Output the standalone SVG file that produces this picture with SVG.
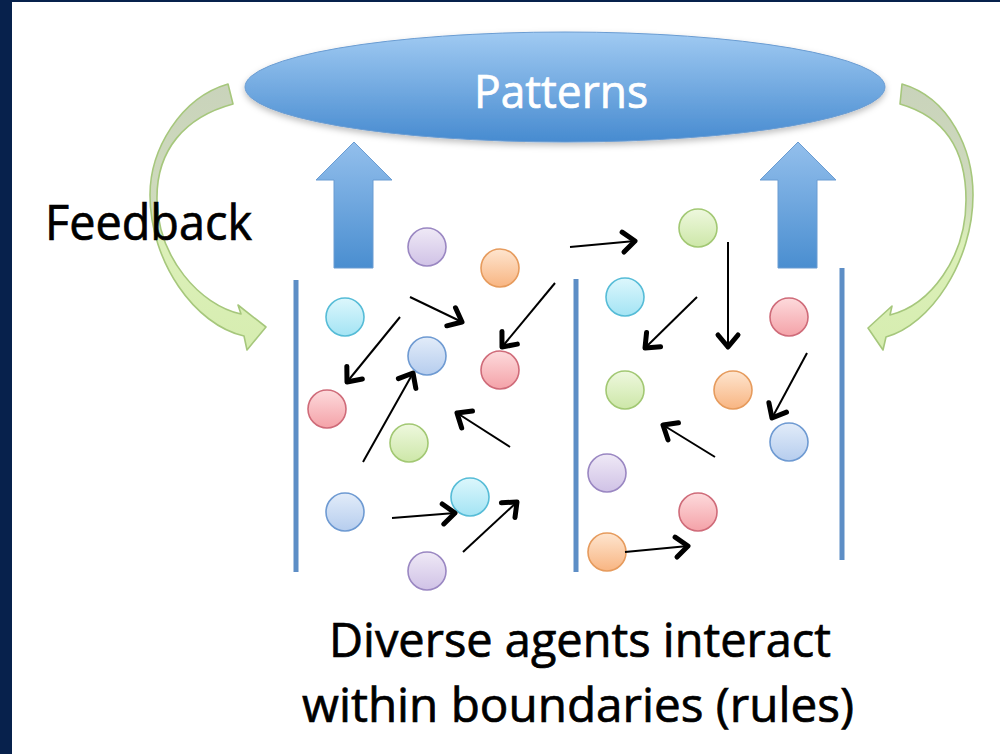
<svg xmlns="http://www.w3.org/2000/svg" width="1000" height="754" viewBox="0 0 1000 754">
<defs>
<linearGradient id="gEll" x1="0" y1="0" x2="0" y2="1"><stop offset="0" stop-color="#a0caf2"/><stop offset="1" stop-color="#478bd0"/></linearGradient>
<linearGradient id="gUp" x1="0" y1="0" x2="0" y2="1"><stop offset="0" stop-color="#93bfec"/><stop offset="1" stop-color="#4a8ed0"/></linearGradient>
<linearGradient id="gGreen" x1="0" y1="0" x2="0" y2="1"><stop offset="0" stop-color="#c9d3bb"/><stop offset="0.45" stop-color="#cfdbbd"/><stop offset="0.6" stop-color="#dcf0b9"/><stop offset="1" stop-color="#d6edb0"/></linearGradient>
<linearGradient id="cB" x1="0" y1="0" x2="0" y2="1"><stop offset="0" stop-color="#e2ecf9"/><stop offset="1" stop-color="#b6cdee"/></linearGradient>
<linearGradient id="cC" x1="0" y1="0" x2="0" y2="1"><stop offset="0" stop-color="#dcf7fc"/><stop offset="1" stop-color="#a3e4f4"/></linearGradient>
<linearGradient id="cR" x1="0" y1="0" x2="0" y2="1"><stop offset="0" stop-color="#fddadc"/><stop offset="1" stop-color="#f4a2a8"/></linearGradient>
<linearGradient id="cG" x1="0" y1="0" x2="0" y2="1"><stop offset="0" stop-color="#eef8de"/><stop offset="1" stop-color="#cde7a8"/></linearGradient>
<linearGradient id="cO" x1="0" y1="0" x2="0" y2="1"><stop offset="0" stop-color="#fee5cf"/><stop offset="1" stop-color="#f8b582"/></linearGradient>
<linearGradient id="cP" x1="0" y1="0" x2="0" y2="1"><stop offset="0" stop-color="#efe9f6"/><stop offset="1" stop-color="#d0c2e6"/></linearGradient>
<filter id="sh" x="-10%" y="-20%" width="120%" height="150%"><feDropShadow dx="0" dy="3" stdDeviation="3" flood-color="#000" flood-opacity="0.25"/></filter>
<marker id="chev" viewBox="-16 -14 20 28" refX="0" refY="0" markerWidth="20" markerHeight="28" markerUnits="userSpaceOnUse" orient="auto" overflow="visible">
<path d="M -12,-10 L 0,0 L -12,10" fill="none" stroke="#000" stroke-width="5" stroke-linejoin="round" stroke-linecap="round"/>
</marker>
</defs>
<style>
.bnd{stroke:#5d8ec6;stroke-width:5;}
.ag{stroke-width:1.6;}
.b{fill:url(#cB);stroke:#6e9ad2;}
.c{fill:url(#cC);stroke:#56bcd7;}
.r{fill:url(#cR);stroke:#cf6b79;}
.g{fill:url(#cG);stroke:#a2c873;}
.o{fill:url(#cO);stroke:#e69b5d;}
.p{fill:url(#cP);stroke:#9a87c2;}
.lbl{font-family:"Open Sans","Noto Sans",sans-serif;fill:#000;stroke:#000;stroke-width:0.7;}
#connectors line{stroke:#000;stroke-width:2;marker-end:url(#chev);}
</style>
<rect x="0" y="0" width="1000" height="754" fill="#ffffff"/>
<rect x="0" y="0" width="12" height="754" fill="#07214c"/>
<rect x="0" y="0" width="1000" height="2" fill="#07214c"/>

<g id="patterns">
<ellipse cx="565" cy="87" rx="320" ry="55" fill="url(#gEll)" stroke="#6a9cd2" stroke-width="1" filter="url(#sh)"/>
<text x="561" y="108" text-anchor="middle" font-family="Open Sans, Noto Sans, sans-serif" font-size="46" fill="#ffffff" stroke="#ffffff" stroke-width="0.7" textLength="174" lengthAdjust="spacingAndGlyphs">Patterns</text>
</g>

<g id="feedback-left">
<path d="M 228,84 C 180,98 150,150 150,195 C 150,262 195,325 244,336 L 247,350 L 266,327 L 238,305 L 241,314 C 200,305 158,258 157,200 C 156,150 185,117 233,104 Z" fill="url(#gGreen)" stroke="#a6c77c" stroke-width="1.6" stroke-linejoin="round"/>
</g>
<g id="feedback-right">
<path d="M 902,84 C 950,98 973,150 973,195 C 973,262 930,325 886,337 L 883,350 L 868,328 L 892,306 L 890,315 C 930,305 966,258 966,200 C 966,150 945,117 900,104 Z" fill="url(#gGreen)" stroke="#a6c77c" stroke-width="1.6" stroke-linejoin="round"/>
</g>
<g id="feedback-label">
<text class="lbl" x="45" y="240" font-size="49" textLength="207" lengthAdjust="spacingAndGlyphs">Feedback</text>
</g>

<g id="up-left">
<path d="M 354,142 L 392,180 L 373,180 L 373,268 L 334,268 L 334,180 L 316,180 Z" fill="url(#gUp)" stroke="#6a9cd2" stroke-width="1"/>
</g>
<g id="up-right">
<path d="M 798,142 L 836,180 L 817,180 L 817,268 L 778,268 L 778,180 L 760,180 Z" fill="url(#gUp)" stroke="#6a9cd2" stroke-width="1"/>
</g>

<g id="boundaries">
<line class="bnd" x1="296" y1="280" x2="296" y2="572"/>
<line class="bnd" x1="576" y1="279" x2="576" y2="572"/>
<line class="bnd" x1="842" y1="268" x2="842" y2="560"/>
</g>

<g id="agents">
<circle class="ag p" cx="427" cy="247" r="19"/>
<circle class="ag o" cx="500" cy="268" r="19"/>
<circle class="ag c" cx="345" cy="317" r="19"/>
<circle class="ag b" cx="427" cy="356" r="19"/>
<circle class="ag r" cx="500" cy="370" r="19"/>
<circle class="ag r" cx="327" cy="409" r="19"/>
<circle class="ag g" cx="409" cy="443" r="19"/>
<circle class="ag b" cx="345" cy="512" r="19"/>
<circle class="ag c" cx="470" cy="497" r="19"/>
<circle class="ag p" cx="427" cy="571" r="19"/>
<circle class="ag g" cx="698" cy="228" r="19"/>
<circle class="ag c" cx="625" cy="297" r="19"/>
<circle class="ag r" cx="789" cy="317" r="19"/>
<circle class="ag g" cx="625" cy="390" r="19"/>
<circle class="ag o" cx="733" cy="390" r="19"/>
<circle class="ag b" cx="789" cy="442" r="19"/>
<circle class="ag p" cx="607" cy="473" r="19"/>
<circle class="ag r" cx="698" cy="512" r="19"/>
<circle class="ag o" cx="607" cy="552" r="19"/>
</g>

<g id="connectors">
<line x1="410" y1="297" x2="462" y2="322"/>
<line x1="400" y1="317" x2="347" y2="382"/>
<line x1="555" y1="283" x2="502" y2="347"/>
<line x1="363" y1="462" x2="413" y2="373"/>
<line x1="510" y1="447" x2="457" y2="413"/>
<line x1="392" y1="518" x2="455" y2="513"/>
<line x1="463" y1="552" x2="517" y2="502"/>
<line x1="570" y1="247" x2="635" y2="241"/>
<line x1="697" y1="297" x2="645" y2="348"/>
<line x1="728" y1="242" x2="728" y2="347"/>
<line x1="807" y1="353" x2="772" y2="418"/>
<line x1="715" y1="457" x2="663" y2="425"/>
<line x1="625" y1="552" x2="688" y2="546"/>
</g>

<g id="caption">
<text class="lbl" x="329" y="657" font-size="48" textLength="502" lengthAdjust="spacingAndGlyphs">Diverse agents interact</text>
<text class="lbl" x="302" y="722" font-size="48" textLength="552" lengthAdjust="spacingAndGlyphs">within boundaries (rules)</text>
</g>
</svg>
